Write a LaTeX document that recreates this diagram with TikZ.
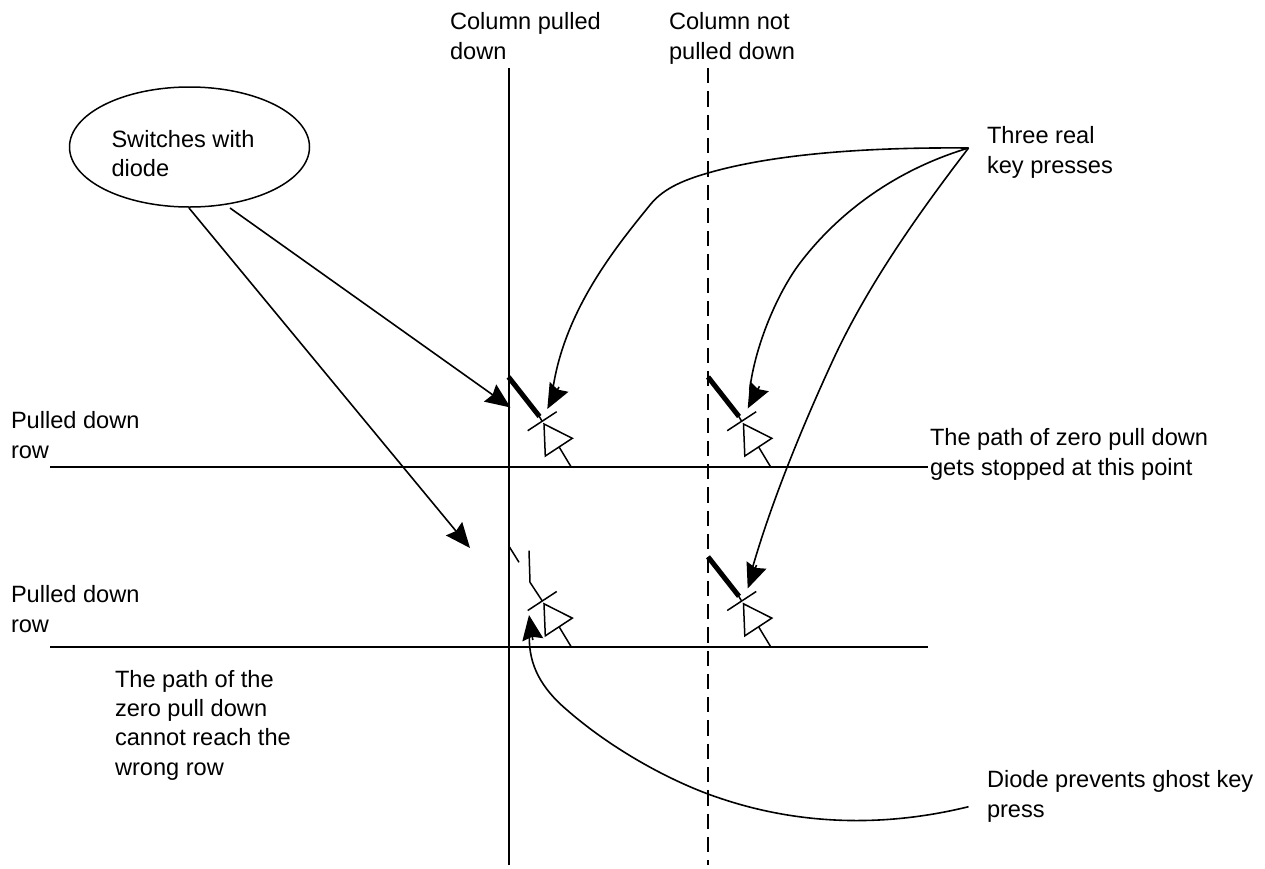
\documentclass[tikz,border=0pt]{standalone}
\usepackage{fontspec}
\setmainfont{Liberation Sans}
\usetikzlibrary{arrows.meta,shapes.geometric}
\tikzset{
  lbl/.style={anchor=base west,align=left,inner sep=0pt,outer sep=0pt,font=\fontsize{23.6}{29.3}\selectfont},
  wire/.style={line width=2pt},
  dashwire/.style={line width=2pt,dash pattern=on 15.3pt off 8pt},
  thin part/.style={line width=1.5pt},
  arr/.style={line width=1.6pt,-{Stealth[length=25pt,width=21pt,inset=3pt]}}
}
\newcommand{\swdiode}[2]{%
  \begin{scope}[shift={(#1,#2)}]
    \draw[thin part] (527.7,-430.7) -- (556.7,-411.7);
    \draw[thin part] (544,-424) -- (572.3,-438.3) -- (545.3,-456) -- cycle;
    \draw[thin part] (559.3,-447.3) -- (571,-466.7);
  \end{scope}}
\newcommand{\swclosed}[2]{%
  \begin{scope}[shift={(#1,#2)}]
    \draw[line width=1.5pt] (539,-416) -- (542,-421);
    \draw[line width=5pt] (508.5,-377) -- (539.5,-416.5);
  \end{scope}}
\begin{document}
\begin{tikzpicture}[x=1pt,y=1pt]
\useasboundingbox (0,0) rectangle (1265,-868);
% lines
\coordinate (c1t) at (509,-68); \coordinate (c1b) at (509,-865);
\coordinate (c2t) at (708,-68); \coordinate (c2b) at (708,-865);
\coordinate (r1l) at (50,-467); \coordinate (r1r) at (928,-467);
\coordinate (r2l) at (50,-647); \coordinate (r2r) at (928,-647);
\draw[wire] (c1t) -- (c1b);
\draw[dashwire] (c2t) -- (c2b);
\draw[wire] (r1l) -- (r1r);
\draw[wire] (r2l) -- (r2r);
% switches
\swdiode{0}{0}
\swdiode{199.5}{0}
\swdiode{0}{-179.8}
\swdiode{199.5}{-179.8}
\swclosed{0}{0}
\swclosed{199.5}{0}
\swclosed{199.5}{-179.8}
\draw[thin part] (509.3,-546.7) -- (519,-562.3);
\draw[thin part] (529,-550.7) -- (530,-582.3) -- (542.3,-601);
% ellipse
\node[ellipse,draw,line width=1.5pt,minimum width=240pt,minimum height=120pt,inner sep=0pt] (sw) at (189.5,-147) {};
\node[lbl] (swt) at (111.5,-176.7) {Switches with\\diode};
% texts
\node[lbl] (t1) at (450,-59) {Column pulled\\down};
\node[lbl] (t2) at (669,-59) {Column not\\pulled down};
\node[lbl] (t3) at (987,-173) {Three real\\key presses};
\node[lbl] (t4) at (11,-458) {Pulled down\\row};
\node[lbl] (t5) at (11,-632) {Pulled down\\row};
\node[lbl] (t6) at (930,-475) {The path of zero pull down\\gets stopped at this point};
\node[lbl] (t7) at (115,-775) {The path of the\\zero pull down\\cannot reach the\\wrong row};
\node[lbl] (t8) at (987,-817) {Diode prevents ghost key\\press};
% arrows
\coordinate (a1) at (230,-208); \coordinate (a1e) at (510.5,-407.5);
\coordinate (a2) at (189,-208); \coordinate (a2e) at (470,-548);
\coordinate (k) at (968.5,-148);
\coordinate (a3e) at (547.3,-409); \coordinate (a4e) at (747.7,-408.5); \coordinate (a5e) at (747.7,-588.5);
\coordinate (d) at (968.5,-806.7); \coordinate (a6e) at (529,-615);
\draw[arr] (a1) -- (a1e);
\draw[arr] (a2) -- (a2e);
\draw[arr] (k) .. controls (860,-147) and (770,-155) .. (708,-173) .. controls (680,-181) and (662,-190) .. (650,-205) .. controls (615,-248) and (565,-310) .. (553,-388) (559,-387) -- (a3e);
\draw[arr] (k) .. controls (895,-170) and (838,-213) .. (800,-263) .. controls (778,-292) and (755,-345) .. (749.7,-390) (759.4,-386.3) -- (a4e);
\draw[arr] (k) .. controls (925,-205) and (870,-280) .. (833,-360) .. controls (811,-407.6) and (775,-490) .. (752.7,-567) (756.5,-565) -- (a5e);
\draw[arr] (d) .. controls (890,-826) and (800,-828) .. (708,-794) .. controls (660,-776) and (607,-745) .. (567,-710) .. controls (541,-688) and (529,-665) .. (529.3,-637) (532.8,-640) -- (a6e);
\end{tikzpicture}
\end{document}
